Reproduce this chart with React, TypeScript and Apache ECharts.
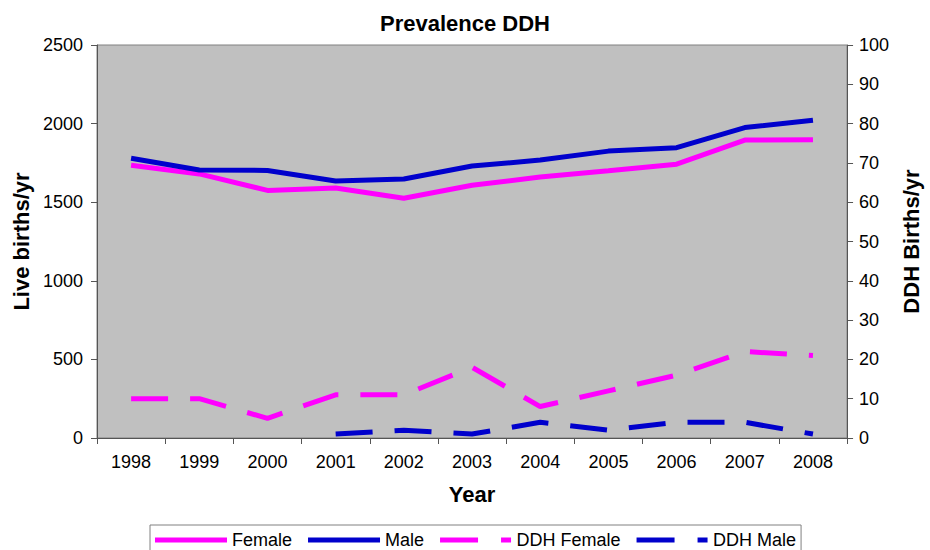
import React, { useEffect, useRef } from "react";
import * as echarts from "echarts";

const years = ["1998", "1999", "2000", "2001", "2002", "2003", "2004", "2005", "2006", "2007", "2008"];
const female = [1735, 1680, 1575, 1590, 1525, 1608, 1660, 1700, 1742, 1895, 1898];
const male = [1780, 1705, 1702, 1635, 1648, 1730, 1768, 1825, 1847, 1975, 2022];
const ddhFemale = [10, 10, 5, 11, 11, 18, 8, 12, 16, 22, 21];
const ddhMale = [null, null, null, 1, 2, 1, 4, 2, 4, 4, 1];

const FONT = "'Liberation Sans', Arial, sans-serif";
const PINK = "#FF00FF";
const BLUE = "#0000CC";
const SOLID_ICON = "path://M0,0H72V5H0Z";
const DASH_ICON = "path://M0,0H38V5H0Z M61,0H71V5H61Z";

export default function App() {
  const ref = useRef<HTMLDivElement>(null);
  useEffect(() => {
    const chart = echarts.init(ref.current!, undefined, { renderer: "svg" });
    const axisLine = { show: true, lineStyle: { color: "#555555", width: 1 } };
    const axisTick = { show: true, length: 6, lineStyle: { color: "#555555" } };
    const nameStyle = { fontFamily: FONT, fontSize: 22, fontWeight: "bold", color: "#000" };
    const labelStyle = { fontFamily: FONT, fontSize: 18, color: "#000" };
    chart.setOption({
      animation: false,
      textStyle: { fontFamily: FONT },
      title: {
        text: "Prevalence DDH",
        left: "center",
        top: 7,
        textStyle: { fontFamily: FONT, fontSize: 22, fontWeight: "bold", color: "#000" },
      },
      grid: {
        left: 97,
        right: 75,
        top: 45,
        bottom: 112,
        show: true,
        backgroundColor: "#C0C0C0",
        borderColor: "#808080",
        borderWidth: 1,
      },
      legend: {
        left: 150,
        top: 525,
        width: 700,
        itemWidth: 72,
        itemHeight: 5,
        itemGap: 16,
        padding: [6, 5, 8, 5],
        borderColor: "#808080",
        borderWidth: 1,
        backgroundColor: "#fff",
        textStyle: { fontFamily: FONT, fontSize: 18, lineHeight: 16, color: "#000" },
        data: [
          { name: "Female", icon: SOLID_ICON, itemStyle: { color: PINK } },
          { name: "Male", icon: SOLID_ICON, itemStyle: { color: BLUE } },
          { name: "DDH Female", icon: DASH_ICON, itemStyle: { color: PINK } },
          { name: "DDH Male", icon: DASH_ICON, itemStyle: { color: BLUE } },
        ],
      },
      xAxis: {
        type: "category",
        data: years,
        boundaryGap: true,
        name: "Year",
        nameLocation: "middle",
        nameGap: 45,
        nameTextStyle: nameStyle,
        axisLine,
        axisTick: { ...axisTick, interval: 0 },
        axisLabel: { ...labelStyle, margin: 15, interval: 0 },
        splitLine: { show: false },
      },
      yAxis: [
        {
          type: "value",
          min: 0,
          max: 2500,
          interval: 500,
          name: "Live births/yr",
          nameLocation: "middle",
          nameGap: 52,
          nameTextStyle: nameStyle,
          axisLine,
          axisTick,
          axisLabel: { ...labelStyle, margin: 14, formatter: (v: number) => String(v) },
          splitLine: { show: false },
        },
        {
          type: "value",
          min: 0,
          max: 100,
          interval: 10,
          position: "right",
          name: "DDH Births/yr",
          nameLocation: "middle",
          nameGap: 43,
          nameRotate: 90,
          nameTextStyle: nameStyle,
          axisLine,
          axisTick,
          axisLabel: { ...labelStyle, margin: 12 },
          splitLine: { show: false },
        },
      ],
      series: [
        {
          name: "Female",
          type: "line",
          data: female,
          yAxisIndex: 0,
          symbol: "none",
          color: PINK,
          lineStyle: { color: PINK, width: 5 },
        },
        {
          name: "Male",
          type: "line",
          data: male,
          yAxisIndex: 0,
          symbol: "none",
          color: BLUE,
          lineStyle: { color: BLUE, width: 5 },
        },
        {
          name: "DDH Female",
          type: "line",
          data: ddhFemale,
          yAxisIndex: 1,
          symbol: "none",
          color: PINK,
          lineStyle: { color: PINK, width: 5, type: [37, 22] },
        },
        {
          name: "DDH Male",
          type: "line",
          data: ddhMale,
          yAxisIndex: 1,
          symbol: "none",
          color: BLUE,
          lineStyle: { color: BLUE, width: 5, type: [37, 22] },
        },
      ],
    });
    return () => chart.dispose();
  }, []);
  return <div ref={ref} style={{ width: 930, height: 550, position: "absolute", left: 0, top: 0, background: "#fff" }} />;
}
